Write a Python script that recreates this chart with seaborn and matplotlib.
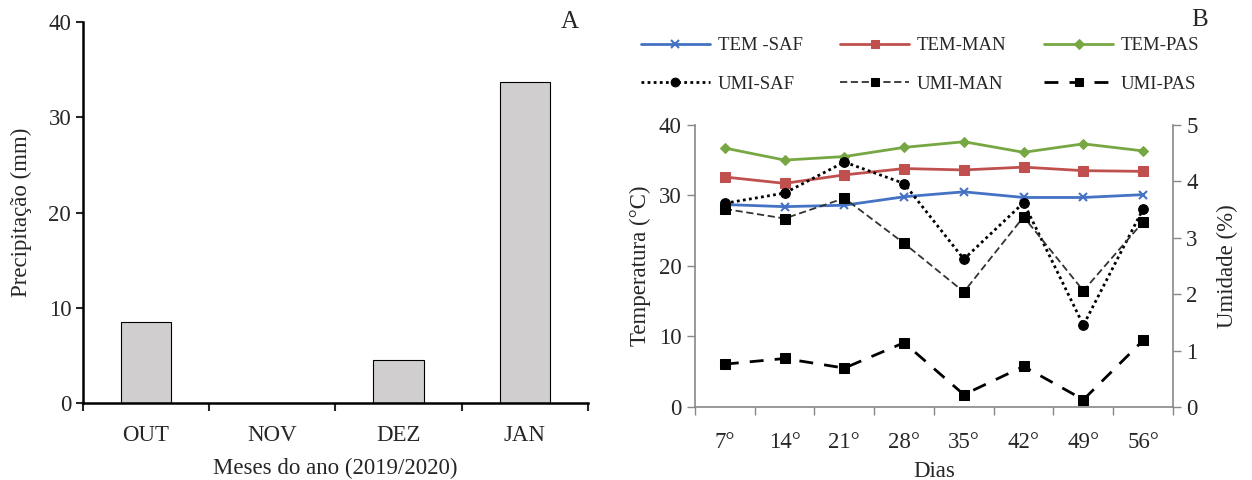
import numpy as np
import pandas as pd
import matplotlib
matplotlib.use("Agg")
import matplotlib.pyplot as plt
import seaborn as sns

# === Data ===
meses = ["OUT", "NOV", "DEZ", "JAN"]
precipitacao = [8.5, 0.0, 4.5, 33.7]

dias = ["7°", "14°", "21°", "28°", "35°", "42°", "49°", "56°"]
tem_saf = [28.7, 28.4, 28.6, 29.8, 30.5, 29.7, 29.7, 30.1]
tem_man = [32.6, 31.7, 32.9, 33.8, 33.6, 34.0, 33.5, 33.4]
tem_pas = [36.7, 35.0, 35.5, 36.8, 37.6, 36.1, 37.3, 36.3]
umi_saf = [3.61, 3.79, 4.34, 3.96, 2.62, 3.62, 1.45, 3.51]
umi_man = [3.51, 3.34, 3.70, 2.90, 2.04, 3.37, 2.06, 3.28]
umi_pas = [0.76, 0.86, 0.69, 1.14, 0.22, 0.72, 0.13, 1.18]

sns.set_theme(style="ticks")
plt.rcParams["font.family"] = ["Liberation Serif", "DejaVu Serif"]
plt.rcParams["axes.linewidth"] = 1.0

FS = 16.5

fig = plt.figure(figsize=(12.52, 4.8), dpi=100)

# === Panel A: precipitation bars ===
ax1 = fig.add_axes([0.0663, 0.160, 0.4033, 0.794])
df_prec = pd.DataFrame({"mes": meses, "prec": precipitacao})
sns.barplot(data=df_prec, x="mes", y="prec", color="#d0cece",
            edgecolor="black", linewidth=0.8, width=0.4, saturation=1, ax=ax1)
ax1.set_xlim(-0.5, 3.5)
ax1.set_ylim(0, 40)
ax1.set_yticks([0, 10, 20, 30, 40])
ax1.set_xticks(np.arange(-0.5, 4.0, 1.0), minor=True)
ax1.tick_params(axis="x", which="major", length=0, labelsize=FS, pad=16)
ax1.tick_params(axis="x", which="minor", length=6, width=1.5, direction="out")
ax1.tick_params(axis="y", length=5, width=1.5, labelsize=FS)
for side in ["left", "bottom"]:
    ax1.spines[side].set_linewidth(1.8)
    ax1.spines[side].set_color("black")
sns.despine(ax=ax1)
ax1.set_xlabel("Meses do ano (2019/2020)", fontsize=FS, labelpad=8)
ax1.set_ylabel("Precipitação (mm)", fontsize=FS, labelpad=12)
fig.text(570 / 1252, 1 - 22 / 480, "A", fontsize=18, ha="center", va="center")

# === Panel B: temperature and humidity ===
ax2 = fig.add_axes([0.5551, 0.152, 0.3818, 0.588])
ax3 = ax2.twinx()
x = np.arange(1, len(dias) + 1)

sns.lineplot(x=x, y=tem_saf, color="#4472c4", marker="x", markersize=6,
             markeredgewidth=1.5, markeredgecolor="#4472c4", linewidth=2,
             label="TEM -SAF", ax=ax2)
sns.lineplot(x=x, y=tem_man, color="#c0504d", marker="s", markersize=7,
             markeredgecolor="#c0504d", linewidth=2, label="TEM-MAN", ax=ax2)
sns.lineplot(x=x, y=tem_pas, color="#77a743", marker="D", markersize=5.5,
             markeredgecolor="#77a743", linewidth=2, label="TEM-PAS", ax=ax2)

sns.lineplot(x=x, y=umi_saf, color="black", marker="o", markersize=7,
             markeredgecolor="black", linewidth=2, linestyle=(0, (1, 1.2)),
             label="UMI-SAF", ax=ax3)
sns.lineplot(x=x, y=umi_man, color="#333333", marker="s", markersize=7,
             markerfacecolor="black", markeredgecolor="black",
             linewidth=1.3, linestyle=(0, (4, 2)), label="UMI-MAN", ax=ax3)
sns.lineplot(x=x, y=umi_pas, color="black", marker="s", markersize=7,
             markeredgecolor="black", linewidth=2, linestyle=(0, (5, 4)),
             label="UMI-PAS", ax=ax3)

ax2.set_xlim(0.5, 8.5)
ax2.set_ylim(0, 40)
ax3.set_ylim(0, 5)
ax2.set_yticks([0, 10, 20, 30, 40])
ax3.set_yticks([0, 1, 2, 3, 4, 5])
ax2.set_xticks(x)
ax2.set_xticklabels(dias)
ax2.set_xticks(np.arange(0.5, 9.0, 1.0), minor=True)
ax2.tick_params(axis="x", which="major", length=0, labelsize=FS, pad=18)
ax2.tick_params(axis="x", which="minor", length=6, width=1, color="#888888")
ax2.tick_params(axis="y", length=6, width=1, color="#888888", labelsize=FS)
ax3.tick_params(axis="y", length=6, width=1, color="#888888", labelsize=FS)
for a in (ax2, ax3):
    a.spines["top"].set_visible(False)
    for side in ["left", "right", "bottom"]:
        a.spines[side].set_color("#888888")
        a.spines[side].set_linewidth(1.2)
ax2.spines["right"].set_visible(False)
ax3.spines["left"].set_visible(False)
ax3.spines["bottom"].set_visible(False)

ax2.set_xlabel("Dias", fontsize=FS, labelpad=6)
ax2.set_ylabel("Temperatura (°C)", fontsize=FS, labelpad=6)
ax3.set_ylabel("Umidade (%)", fontsize=FS, labelpad=14)
fig.text(1200 / 1252, 1 - 20 / 480, "B", fontsize=18, ha="center", va="center")

# Legend above panel B (row 1 temperature, row 2 humidity)
h2, l2 = ax2.get_legend_handles_labels()
h3, l3 = ax3.get_legend_handles_labels()
ax2.get_legend().remove()
ax3.get_legend().remove()
handles = [h2[0], h3[0], h2[1], h3[1], h2[2], h3[2]]
labels = [l2[0], l3[0], l2[1], l3[1], l2[2], l3[2]]
fig.legend(handles, labels, loc="center", ncol=3, frameon=False,
           bbox_to_anchor=(920 / 1252, 1 - 65 / 480), fontsize=13.5,
           handlelength=3.7, columnspacing=2.0, labelspacing=1.15,
           handletextpad=0.4, markerscale=0.9)

plt.savefig("out.png", dpi=100)
